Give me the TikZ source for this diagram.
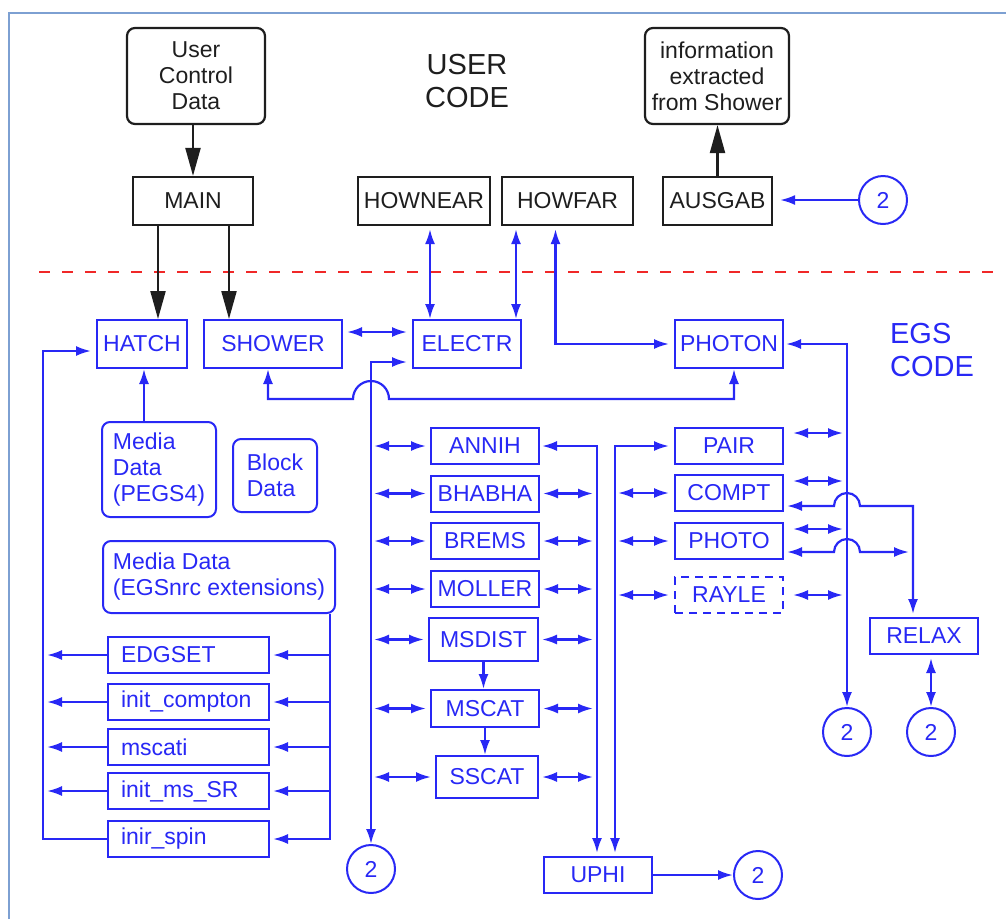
\documentclass[tikz,border=0pt]{standalone}
\usepackage{fontspec}
\setmainfont{Liberation Sans}
\usetikzlibrary{positioning,calc,arrows.meta}
\definecolor{egsblue}{RGB}{40,40,245}
\definecolor{usrblack}{RGB}{30,30,30}
\definecolor{cutred}{RGB}{240,40,40}
\definecolor{framblue}{RGB}{125,160,210}

\begin{document}
\begin{tikzpicture}[
            x=1pt,y=-1pt,
            font=\fontsize{23}{26}\selectfont,
            usr/.style={
                    draw=usrblack,
                    line width=2.2pt,
                    text=usrblack,
                    minimum height=48pt,
                    inner sep=2pt
                },
            usrr/.style={usr, rounded corners=8pt, align=center},
            egs/.style={
                    draw=egsblue,
                    line width=2pt,
                    text=egsblue,
                    minimum width=108pt,
                    minimum height=36pt,
                    inner sep=2pt
                },
            egsr/.style={egs, rounded corners=8pt, align=left},
            lst/.style={egs, text width=135pt, inner xsep=13pt, align=left},
            num/.style={
                    draw=egsblue,
                    line width=2pt,
                    text=egsblue,
                    circle,
                    minimum size=48pt,
                    inner sep=0pt
                },
            big/.style={align=left, font=\fontsize{29}{33}\selectfont},
            barr/.style={draw=usrblack, line width=2.2pt, -{Triangle[length=28pt,width=15pt]}},
            arr/.style={draw=egsblue, line width=2.2pt, -{Latex[length=15pt,width=10pt]}},
            dbl/.style={draw=egsblue, line width=2.2pt,
                    {Latex[length=15pt,width=10pt]}-{Latex[length=15pt,width=10pt]}}
        ]
        \useasboundingbox (0,0) rectangle (1006,919);
        \draw[framblue, line width=1.2pt] (9,919) -- (9,13) -- (1006,13);

        % user code
        \node[usrr, minimum width=138pt, minimum height=96pt] (ucd) at (196,76)
        {User\\Control\\Data};
        \node[usrr, minimum width=144pt, minimum height=96pt] (info) at (717,76)
        {information\\extracted\\from Shower};
        \node[big, align=center, text=usrblack] (usrlbl) at (467,81) {USER\\CODE};
        \node[usr, minimum width=120pt] (main) at (193,201) {MAIN};
        \node[usr, minimum width=132pt] (hownear) at (424,201) {HOWNEAR};
        \node[usr, minimum width=131pt] (howfar) at (567.5,201) {HOWFAR};
        \node[usr, minimum width=109pt] (ausgab) at (717.5,201) {AUSGAB};
        \node[num] (ausnum) at (883,200) {2};

        \draw[barr] (ucd.south -| main.north) -- (main.north);
        \draw[barr] (ausgab.north) -- (ausgab.north |- info.south);
        \draw[arr, shorten >=7pt] (ausnum.west) -- (ausnum.west -| ausgab.east);

        \draw[cutred, line width=2pt, dash pattern=on 11pt off 12pt] (39,272) -- (995,272);

        % egs code
        \node[big, text=egsblue] (egslbl) at (932,350) {EGS\\CODE};
        \node[egs, minimum width=90pt, minimum height=48pt] (hatch) at (142,344) {HATCH};
        \node[egs, minimum width=138pt, minimum height=48pt] (shower) at (273,344) {SHOWER};
        \node[egs, minimum height=48pt] (electr) at (467,344) {ELECTR};
        \node[egs, minimum height=48pt] (photon) at (729,344) {PHOTON};

        \draw[barr] ($(main.south)+(-35,0)$) -- ($(hatch.north)+(16,0)$);
        \draw[barr] ($(main.south)+(36,0)$) -- ($(shower.north)+(-44,0)$);

        \node[egsr, minimum width=114pt, minimum height=95pt] (pegs) at (159,469.5)
        {Media\\Data\\(PEGS4)};
        \node[egsr, minimum width=84pt, minimum height=73pt] (blockd) at (275,475.5)
        {Block\\Data};
        \node[egsr, minimum width=232pt, minimum height=72pt] (egsnrc) at (219,577)
        {Media Data\\(EGSnrc extensions)};
        \draw[arr] ($(pegs.north)+(-15,0)$) -- ($(hatch.south)+(2,0)$);

        % initialisation routines
        \coordinate (lbus) at (43,351);
        \coordinate (rbus) at ($(egsnrc.south east)+(-6,0)$);
        \foreach \nm/\txt/\y in {edgset/EDGSET/655,icompton/init\_compton/702,
                mscati/mscati/747,imssr/init\_ms\_SR/791,inirspin/inir\_spin/839}{
                \node[lst] (\nm) at (188.5,\y) {\txt};
            }
        \foreach \nm in {edgset,icompton,mscati,imssr}{
                \draw[arr, shorten >=3pt] (\nm.east -| rbus) -- (\nm.east);
                \draw[arr, shorten >=4pt] (\nm.west) -- (\nm.west -| lbus);
            }
        \draw[arr, shorten >=3pt] (rbus) |- (inirspin.east);
        \draw[arr, shorten >=5pt] (inirspin.west) -| (lbus) -- (lbus -| hatch.west);

        % electron side
        \foreach \nm/\txt/\y in {annih/ANNIH/446,bhabha/BHABHA/493.5,
                brems/BREMS/541,moller/MOLLER/589}{
                \node[egs] (\nm) at (485,\y) {\txt};
            }
        \node[egs, minimum width=109pt, minimum height=43pt] (msdist) at (483.5,639.5) {MSDIST};
        \node[egs, minimum height=37pt] (mscat) at (485,708.5) {MSCAT};
        \node[egs, minimum width=102pt, minimum height=42pt] (sscat) at (487,777) {SSCAT};
        \draw[arr] (msdist.south) -- (msdist.south |- mscat.north);
        \draw[arr] (mscat.south) -- (mscat.south |- sscat.north);

        \node[num] (elnum) at (371,869) {2};
        \node[egs] (uphi) at (598,875) {UPHI};
        \node[num] (upnum) at (758,875) {2};
        \draw[arr] (uphi) -- (upnum);
        \coordinate (abus) at ($(uphi.north)+(-1,0)$);
        \coordinate (pbus) at ($(uphi.north)+(17,0)$);

        \draw[dbl, shorten >=5pt] (elnum.north) |- ($(electr.west)+(0,18)$);
        \foreach \nm in {annih,bhabha,brems,moller,msdist,mscat,sscat}{
                \draw[dbl, shorten <=3pt, shorten >=4pt] (\nm.west -| elnum) -- (\nm.west);
            }
        \foreach \nm in {bhabha,brems,moller,msdist,mscat,sscat}{
                \draw[dbl, shorten <=3pt, shorten >=4pt] (\nm.east) -- (\nm.east -| abus);
            }
        \draw[dbl, shorten <=2pt, shorten >=3pt] (annih.east) -| (abus);

        \draw[dbl, shorten <=4pt, shorten >=5pt] ($(shower.east)+(0,-12)$) -- ($(electr.west)+(0,-12)$);
        \draw[dbl, shorten <=3pt] ($(hownear.south)+(6,0)$) -- ($(hownear.south |- electr.north)+(6,0)$);
        \draw[dbl, shorten <=3pt] ($(howfar.south -| electr.north east)+(-6,0)$) -- ($(electr.north east)+(-6,0)$);
        \draw[dbl, shorten <=3pt, shorten >=5pt] ($(howfar.south)+(-12,0)$) |- (photon.west);

        \coordinate (hopa) at ($(shower.south -| elnum)+(-18,30)$);
        \draw[dbl] ($(shower.south)+(-5,0)$) |- (hopa)
        arc[start angle=180,end angle=0,radius=18pt] -| ($(photon.south)+(5,0)$);

        % photon side
        \node[egs] (pair) at (729,446) {PAIR};
        \node[egs] (compt) at (729,493) {COMPT};
        \node[egs] (photo) at (729,541) {PHOTO};
        \node[egs, dash pattern=on 8pt off 6pt] (rayle) at (729,595) {RAYLE};
        \node[egs] (relax) at (924,636) {RELAX};
        \node[num] (phnum) at (847,732) {2};
        \node[num] (renum) at (931,732) {2};

        \draw[dbl, shorten <=3pt, shorten >=5pt] (pbus) |- (pair.west);
        \foreach \nm in {compt,photo,rayle}{
                \draw[dbl, shorten <=3pt, shorten >=5pt] (\nm.west -| pbus) -- (\nm.west);
            }
        \draw[dbl, shorten <=2pt] (photon.east) -| (phnum.north);
        \foreach \nm/\dy in {pair/-13,compt/-12,photo/-12,rayle/0}{
                \draw[dbl, shorten <=9pt, shorten >=4pt] ($(\nm.east)+(0,\dy)$) -- ($(\nm.east -| phnum)+(0,\dy)$);
            }
        \coordinate (hopb) at ($(compt.east -| phnum)+(-13,13)$);
        \coordinate (hopc) at ($(photo.east -| phnum)+(-13,11)$);
        \coordinate (photoend) at ($(photo.east)+(125,11)$);
        \draw[dbl, shorten <=3pt, shorten >=3pt] ($(compt.east)+(0,13)$) -- (hopb)
        arc[start angle=180,end angle=0,radius=13pt] -| ($(relax.north)+(-11,0)$);
        \draw[dbl, shorten <=3pt] ($(photo.east)+(0,11)$) -- (hopc)
        arc[start angle=180,end angle=0,radius=13pt] -- (photoend);
        \draw[dbl, shorten <=3pt] (renum.north |- relax.south) -- (renum.north);
    \end{tikzpicture}
\end{document}
